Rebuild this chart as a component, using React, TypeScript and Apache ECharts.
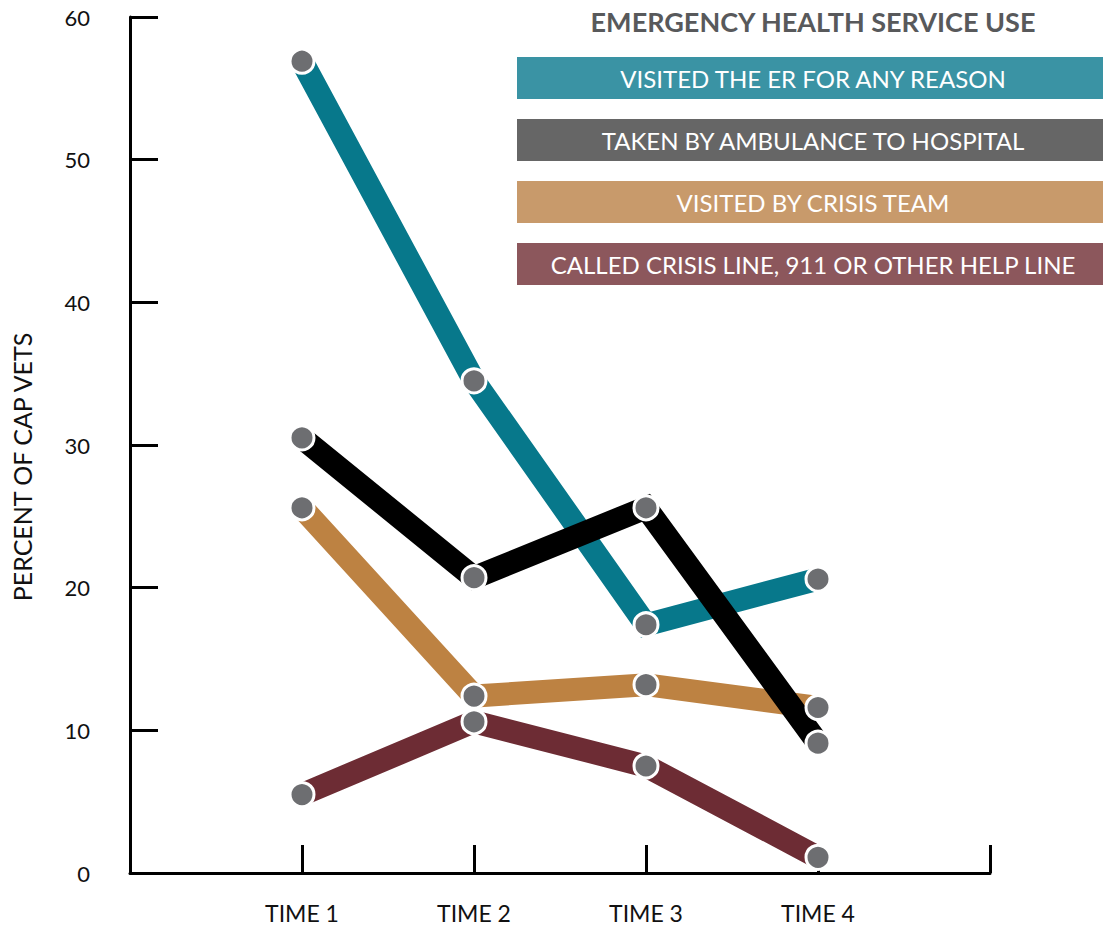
import React, { useEffect, useRef } from "react";
import * as echarts from "echarts";

const timeLabels = ["TIME 1", "TIME 2", "TIME 3", "TIME 4"];
const seriesNames = [
  "VISITED THE ER FOR ANY REASON",
  "TAKEN BY AMBULANCE TO HOSPITAL",
  "VISITED BY CRISIS TEAM",
  "CALLED CRISIS LINE, 911 OR OTHER HELP LINE",
];
const erValues = [56.9, 34.5, 17.4, 20.6];
const ambulanceValues = [30.5, 20.7, 25.6, 9.1];
const crisisTeamValues = [25.6, 12.4, 13.2, 11.6];
const crisisLineValues = [5.5, 10.6, 7.5, 1.1];
const lineColors = ["#07788b", "#000000", "#bd8242", "#6d2c34"];
const boxColors = ["#3a93a4", "#666666", "#c89a6b", "#8c575c"];
const title = "EMERGENCY HEALTH SERVICE USE";
const yAxisTitle = "PERCENT OF CAP VETS";

const FONT = "Lato, 'Open Sans', sans-serif";

export default function App() {
  const ref = useRef<HTMLDivElement>(null);
  useEffect(() => {
    if (!ref.current) return;
    const chart = echarts.init(ref.current, undefined, { renderer: "svg" });
    const allValues = [erValues, ambulanceValues, crisisTeamValues, crisisLineValues];
    // draw order: tan, maroon, teal, black (black on top)
    const order = [2, 3, 0, 1];
    const lineSeries: any[] = order.map((i, k) => ({
      type: "line",
      name: seriesNames[i],
      data: allValues[i].map((v, j) => [j + 1, v]),
      showSymbol: false,
      symbol: "none",
      lineStyle: { width: 23, color: lineColors[i], cap: "butt", join: "miter" },
      z: 2 + k,
      silent: true,
    }));
    const markerSeries: any[] = order.map((i) => ({
      type: "scatter",
      data: allValues[i].map((v, j) => [j + 1, v]),
      symbol: "circle",
      symbolSize: 24,
      itemStyle: { color: "#6d6e71", borderColor: "#ffffff", borderWidth: 3, opacity: 1 },
      z: 10,
      silent: true,
    }));

    const graphics: any[] = [
      {
        type: "text",
        x: 813,
        y: 21,
        style: {
          text: title,
          font: `bold 27px ${FONT}`,
          fill: "#58595b",
          align: "center",
          verticalAlign: "middle",
        },
      },
      {
        type: "text",
        x: 22,
        y: 467,
        rotation: Math.PI / 2,
        style: {
          text: yAxisTitle,
          font: `25px ${FONT}`,
          fill: "#111",
          align: "center",
          verticalAlign: "middle",
        },
      },
    ];
    seriesNames.forEach((name, i) => {
      const top = 57 + i * 62;
      graphics.push({
        type: "rect",
        shape: { x: 517, y: top, width: 586, height: 42 },
        style: { fill: boxColors[i] },
      });
      graphics.push({
        type: "text",
        x: 813,
        y: top + 21,
        style: {
          text: name,
          font: `24px ${FONT}`,
          fill: "#ffffff",
          align: "center",
          verticalAlign: "middle",
        },
      });
    });

    chart.setOption({
      animation: false,
      grid: { left: 130, right: 113, top: 17, bottom: 53, containLabel: false },
      xAxis: {
        type: "value",
        min: 0,
        max: 5,
        interval: 1,
        axisLine: { show: true, lineStyle: { color: "#000", width: 3 } },
        axisTick: { show: true, inside: true, length: 28, lineStyle: { color: "#000", width: 3 } },
        splitLine: { show: false },
        axisLabel: {
          margin: 28,
          fontFamily: FONT,
          fontSize: 23,
          color: "#111",
          showMinLabel: true,
          showMaxLabel: true,
          formatter: (v: number) => (v >= 1 && v <= 4 ? timeLabels[v - 1] : ""),
        },
      },
      yAxis: {
        type: "value",
        min: 0,
        max: 60,
        interval: 10,
        axisLine: { show: true, lineStyle: { color: "#000", width: 3 } },
        axisTick: { show: true, inside: true, length: 28, lineStyle: { color: "#000", width: 3 } },
        splitLine: { show: false },
        axisLabel: {
          margin: 40,
          fontFamily: FONT,
          fontSize: 22,
          color: "#111",
        },
      },
      graphic: graphics,
      series: [...lineSeries, ...markerSeries],
    });
    return () => chart.dispose();
  }, []);
  return (
    <div
      ref={ref}
      style={{ position: "fixed", left: 0, top: 0, width: 1103, height: 926, background: "#fff" }}
    />
  );
}
